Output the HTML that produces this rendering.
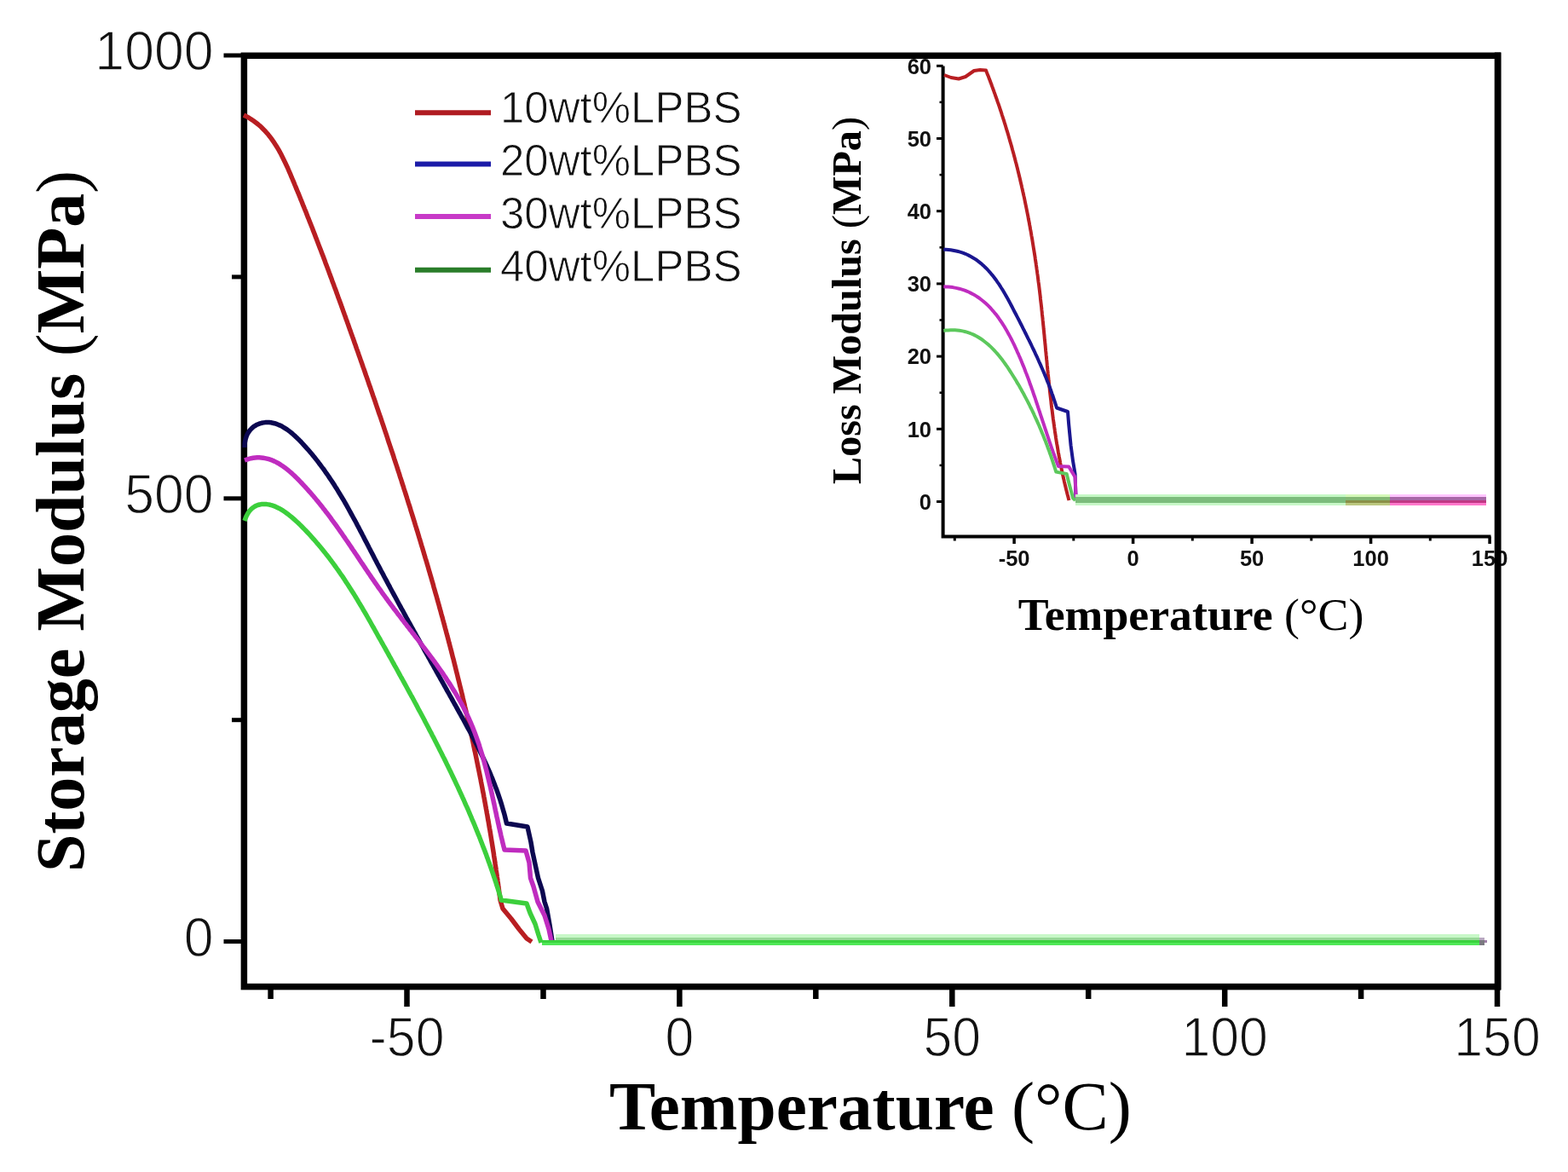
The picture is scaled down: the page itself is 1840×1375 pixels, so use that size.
<!DOCTYPE html><html><head><meta charset="utf-8"><title>Storage Modulus vs Temperature</title>
<style>html,body{margin:0;padding:0;background:#fff;}body{width:1840px;height:1375px;overflow:hidden;}svg{display:block;}.ax{font-family:"Liberation Serif","Times New Roman",serif;font-weight:bold;fill:#000;}.tk{font-family:"Liberation Sans",Arial,sans-serif;fill:#111;}</style></head><body>
<svg width="1840" height="1375" viewBox="0 0 1840 1375">
<rect x="0" y="0" width="1840" height="1375" fill="#fff"/>
<g fill="none" stroke="#000" stroke-linecap="butt">
<rect x="286.4" y="65.3" width="1471.2" height="1092.3" stroke-width="7.5"/>
<line x1="262.5" y1="1104.6" x2="286.4" y2="1104.6" stroke-width="5"/>
<line x1="262.5" y1="584.8" x2="286.4" y2="584.8" stroke-width="5"/>
<line x1="262.5" y1="65" x2="286.4" y2="65" stroke-width="5"/>
<line x1="272" y1="844.7" x2="286.4" y2="844.7" stroke-width="5"/>
<line x1="272" y1="324.9" x2="286.4" y2="324.9" stroke-width="5"/>
<line x1="477.5" y1="1157.6" x2="477.5" y2="1181" stroke-width="6.5"/>
<line x1="797.4" y1="1157.6" x2="797.4" y2="1181" stroke-width="6.5"/>
<line x1="1117.3" y1="1157.6" x2="1117.3" y2="1181" stroke-width="6.5"/>
<line x1="1437.2" y1="1157.6" x2="1437.2" y2="1181" stroke-width="6.5"/>
<line x1="1757" y1="1157.6" x2="1757" y2="1181" stroke-width="6.5"/>
<line x1="317.6" y1="1157.6" x2="317.6" y2="1172" stroke-width="6.5"/>
<line x1="637.5" y1="1157.6" x2="637.5" y2="1172" stroke-width="6.5"/>
<line x1="957.3" y1="1157.6" x2="957.3" y2="1172" stroke-width="6.5"/>
<line x1="1277.2" y1="1157.6" x2="1277.2" y2="1172" stroke-width="6.5"/>
<line x1="1597.1" y1="1157.6" x2="1597.1" y2="1172" stroke-width="6.5"/>
</g>
<g class="tk" font-size="64.5" stroke="#fff" stroke-width="1.3">
<text x="0" y="0" text-anchor="end" transform="translate(250.5,1121.6) scale(0.97,1)">0</text>
<text x="0" y="0" text-anchor="end" transform="translate(250.5,601.8) scale(0.97,1)">500</text>
<text x="0" y="0" text-anchor="end" transform="translate(250.5,82) scale(0.97,1)">1000</text>
</g>
<g class="tk" font-size="64" stroke="#fff" stroke-width="1.3">
<text x="0" y="0" text-anchor="middle" transform="translate(477.5,1239) scale(0.95,1)">-50</text>
<text x="0" y="0" text-anchor="middle" transform="translate(797.4,1239) scale(0.95,1)">0</text>
<text x="0" y="0" text-anchor="middle" transform="translate(1117.3,1239) scale(0.95,1)">50</text>
<text x="0" y="0" text-anchor="middle" transform="translate(1437.2,1239) scale(0.95,1)">100</text>
<text x="0" y="0" text-anchor="middle" transform="translate(1757,1239) scale(0.95,1)">150</text>
</g>
<text class="ax" x="715" y="1325" font-size="81.3">Temperature <tspan font-weight="normal">(°C)</tspan></text>
<text class="ax" font-size="81" transform="translate(98,1023) rotate(-90)" textLength="823" lengthAdjust="spacingAndGlyphs">Storage Modulus <tspan font-weight="normal">(</tspan>MPa<tspan font-weight="normal">)</tspan></text>
<rect x="652" y="1096" width="1084" height="4" fill="#c8f8c8"/>
<rect x="652" y="1100" width="1084" height="3" fill="#98d898"/>
<path d="M286,135 L288.4,136.2 L290.6,137.4 L292.8,138.7 L295,140.1 L297.1,141.5 L299.1,143 L301.1,144.5 L303,146 L304.9,147.6 L306.7,149.3 L308.4,151 L310.1,152.7 L311.8,154.5 L313.4,156.3 L314.9,158.1 L316.4,160 L317.9,161.9 L319.3,163.9 L320.7,165.9 L322.1,167.9 L323.4,169.9 L324.7,172 L326,174.1 L327.2,176.2 L328.4,178.4 L329.6,180.5 L330.7,182.7 L331.8,184.9 L332.9,187.2 L334,189.4 L335.1,191.7 L336.1,193.9 L337.2,196.2 L338.2,198.5 L339.2,200.8 L340.2,203.1 L341.2,205.4 L342.1,207.7 L343.1,210 L344.1,212.4 L345.1,214.7 L346,217 L347,219.3 L347.9,221.7 L348.9,224 L349.9,226.3 L350.8,228.6 L351.8,231 L352.7,233.3 L353.7,235.6 L354.6,238 L355.5,240.3 L356.5,242.6 L357.4,245 L358.4,247.3 L359.3,249.6 L360.2,252 L361.1,254.3 L362.1,256.6 L363,259 L363.9,261.3 L364.8,263.6 L365.8,266 L366.7,268.3 L367.6,270.7 L368.5,273 L369.4,275.3 L370.3,277.7 L371.2,280 L372.1,282.4 L373,284.7 L373.9,287.1 L374.8,289.4 L375.7,291.8 L376.6,294.1 L377.5,296.4 L378.4,298.8 L379.3,301.1 L380.2,303.5 L381.1,305.8 L381.9,308.2 L382.8,310.5 L383.7,312.9 L384.6,315.2 L385.5,317.6 L386.3,319.9 L387.2,322.3 L388.1,324.7 L389,327 L389.8,329.4 L390.7,331.7 L391.6,334.1 L392.4,336.4 L393.3,338.8 L394.2,341.1 L395,343.5 L395.9,345.9 L396.7,348.2 L397.6,350.6 L398.5,352.9 L399.3,355.3 L400.2,357.6 L401,360 L401.9,362.4 L402.7,364.7 L403.6,367.1 L404.4,369.4 L405.3,371.8 L406.1,374.2 L407,376.5 L407.8,378.9 L408.7,381.3 L409.5,383.6 L410.3,386 L411.2,388.3 L412,390.7 L412.9,393.1 L413.7,395.4 L414.6,397.8 L415.4,400.2 L416.2,402.5 L417.1,404.9 L417.9,407.3 L418.7,409.6 L419.6,412 L420.4,414.4 L421.2,416.7 L422.1,419.1 L422.9,421.5 L423.7,423.8 L424.6,426.2 L425.4,428.6 L426.2,430.9 L427.1,433.3 L427.9,435.7 L428.7,438 L429.5,440.4 L430.4,442.8 L431.2,445.1 L432,447.5 L432.8,449.9 L433.6,452.3 L434.5,454.6 L435.3,457 L436.1,459.4 L436.9,461.7 L437.7,464.1 L438.6,466.5 L439.4,468.9 L440.2,471.2 L441,473.6 L441.8,476 L442.6,478.4 L443.4,480.7 L444.2,483.1 L445,485.5 L445.9,487.9 L446.7,490.2 L447.5,492.6 L448.3,495 L449.1,497.4 L449.9,499.7 L450.7,502.1 L451.5,504.5 L452.3,506.9 L453.1,509.2 L453.9,511.6 L454.7,514 L455.4,516.4 L456.2,518.8 L457,521.1 L457.8,523.5 L458.6,525.9 L459.4,528.3 L460.2,530.7 L461,533 L461.8,535.4 L462.5,537.8 L463.3,540.2 L464.1,542.6 L464.9,545 L465.7,547.3 L466.4,549.7 L467.2,552.1 L468,554.5 L468.8,556.9 L469.5,559.3 L470.3,561.6 L471.1,564 L471.8,566.4 L472.6,568.8 L473.4,571.2 L474.1,573.6 L474.9,576 L475.7,578.4 L476.4,580.7 L477.2,583.1 L477.9,585.5 L478.7,587.9 L479.4,590.3 L480.2,592.7 L481,595.1 L481.7,597.5 L482.4,599.9 L483.2,602.3 L483.9,604.7 L484.7,607 L485.4,609.4 L486.2,611.8 L486.9,614.2 L487.6,616.6 L488.4,619 L489.1,621.4 L489.9,623.8 L490.6,626.2 L491.3,628.6 L492,631 L492.8,633.4 L493.5,635.8 L494.2,638.2 L494.9,640.6 L495.7,643 L496.4,645.4 L497.1,647.8 L497.8,650.2 L498.5,652.6 L499.2,655 L500,657.4 L500.7,659.8 L501.4,662.2 L502.1,664.6 L502.8,667 L503.5,669.4 L504.2,671.8 L504.9,674.2 L505.6,676.6 L506.3,679 L507,681.4 L507.7,683.8 L508.4,686.3 L509,688.7 L509.7,691.1 L510.4,693.5 L511.1,695.9 L511.8,698.3 L512.5,700.7 L513.1,703.1 L513.8,705.5 L514.5,707.9 L515.2,710.3 L515.8,712.8 L516.5,715.2 L517.2,717.6 L517.8,720 L518.5,722.4 L519.2,724.8 L519.8,727.2 L520.5,729.7 L521.1,732.1 L521.8,734.5 L522.4,736.9 L523.1,739.3 L523.7,741.7 L524.4,744.2 L525,746.6 L525.7,749 L526.3,751.4 L526.9,753.8 L527.6,756.3 L528.2,758.7 L528.8,761.1 L529.5,763.5 L530.1,766 L530.7,768.4 L531.3,770.8 L532,773.2 L532.6,775.7 L533.2,778.1 L533.8,780.5 L534.4,782.9 L535,785.4 L535.6,787.8 L536.2,790.2 L536.8,792.6 L537.4,795.1 L538,797.5 L538.6,799.9 L539.2,802.4 L539.8,804.8 L540.4,807.2 L541,809.7 L541.6,812.1 L542.2,814.5 L542.8,817 L543.3,819.4 L543.9,821.8 L544.5,824.3 L545.1,826.7 L545.6,829.1 L546.2,831.6 L546.8,834 L547.3,836.5 L547.9,838.9 L548.4,841.3 L549,843.8 L549.6,846.2 L550.1,848.7 L550.7,851.1 L551.2,853.5 L551.7,856 L552.3,858.4 L552.8,860.9 L553.4,863.3 L553.9,865.8 L554.4,868.2 L555,870.7 L555.5,873.1 L556,875.6 L556.5,878 L557,880.5 L557.6,882.9 L558.1,885.4 L558.6,887.8 L559.1,890.3 L559.6,892.7 L560.1,895.2 L560.6,897.6 L561.1,900.1 L561.6,902.5 L562.1,905 L562.6,907.4 L563.1,909.9 L563.6,912.4 L564.1,914.8 L564.5,917.3 L565,919.7 L565.5,922.2 L566,924.7 L566.4,927.1 L566.9,929.6 L567.4,932 L567.8,934.5 L568.3,937 L568.7,939.4 L569.2,941.9 L569.6,944.4 L570.1,946.8 L570.5,949.3 L571,951.8 L571.4,954.2 L571.9,956.7 L572.3,959.2 L572.7,961.6 L573.2,964.1 L573.6,966.6 L574,969 L574.4,971.5 L574.9,974 L575.3,976.5 L575.7,978.9 L576.1,981.4 L576.5,983.9 L576.9,986.4 L577.3,988.8 L577.7,991.3 L578.1,993.8 L578.5,996.3 L578.9,998.8 L579.3,1001.2 L579.6,1003.7 L580,1006.2 L580.4,1008.7 L580.8,1011.2 L581.1,1013.7 L581.5,1016.1 L581.9,1018.6 L582.2,1021.1 L582.6,1023.6 L583,1026.1 L583.3,1028.6 L583.7,1031.1 L584,1033.6 L584.4,1036.1 L584.7,1038.5 L585,1041 L585.4,1043.5 L585.7,1046 L586,1048.5 L586.4,1051 L586.7,1053.5 L587,1056 L587,1056 L590,1066 L600,1078 L609,1090 L618,1101 L624,1105" fill="none" stroke="#b81e22" stroke-width="5.5" stroke-linejoin="round" stroke-linecap="butt"/>
<path d="M287,525 L287.1,521.7 L287.4,518.6 L288,515.7 L288.8,513.1 L289.7,510.6 L290.9,508.3 L292.2,506.2 L293.7,504.3 L295.3,502.6 L297,501.1 L298.8,499.8 L300.8,498.6 L302.8,497.7 L304.9,496.9 L307,496.3 L309.2,495.9 L311.4,495.6 L313.6,495.5 L315.8,495.6 L318,495.8 L320.1,496.2 L322.3,496.7 L324.4,497.4 L326.5,498.2 L328.6,499.1 L330.7,500.1 L332.7,501.3 L334.8,502.6 L336.8,503.9 L338.8,505.4 L340.8,506.9 L342.8,508.5 L344.7,510.2 L346.6,511.9 L348.5,513.7 L350.4,515.6 L352.3,517.4 L354.1,519.4 L355.9,521.3 L357.7,523.3 L359.5,525.3 L361.3,527.3 L363,529.3 L364.7,531.3 L366.4,533.3 L368,535.3 L369.7,537.3 L371.3,539.4 L372.9,541.4 L374.4,543.5 L376,545.5 L377.5,547.6 L379.1,549.6 L380.6,551.7 L382,553.8 L383.5,555.9 L385,558 L386.4,560.1 L387.8,562.2 L389.2,564.3 L390.6,566.4 L392,568.5 L393.3,570.7 L394.7,572.8 L396,574.9 L397.3,577.1 L398.6,579.2 L399.9,581.4 L401.2,583.5 L402.5,585.7 L403.8,587.8 L405,590 L406.3,592.2 L407.5,594.3 L408.7,596.5 L409.9,598.7 L411.1,600.9 L412.3,603.1 L413.5,605.3 L414.7,607.5 L415.9,609.6 L417.1,611.8 L418.3,614 L419.4,616.2 L420.6,618.4 L421.8,620.7 L422.9,622.9 L424.1,625.1 L425.2,627.3 L426.4,629.5 L427.5,631.7 L428.6,633.9 L429.8,636.1 L430.9,638.3 L432.1,640.6 L433.2,642.8 L434.4,645 L435.5,647.2 L436.7,649.4 L437.8,651.6 L439,653.9 L440.1,656.1 L441.3,658.3 L442.4,660.5 L443.6,662.7 L444.8,664.9 L445.9,667.1 L447.1,669.4 L448.3,671.6 L449.5,673.8 L450.6,676 L451.8,678.2 L453,680.4 L454.2,682.6 L455.4,684.9 L456.6,687.1 L457.7,689.3 L458.9,691.5 L460.1,693.7 L461.3,695.9 L462.5,698.1 L463.7,700.3 L464.9,702.6 L466.1,704.8 L467.3,707 L468.5,709.2 L469.7,711.4 L470.9,713.6 L472.2,715.8 L473.4,718 L474.6,720.2 L475.8,722.5 L477,724.7 L478.2,726.9 L479.4,729.1 L480.7,731.3 L481.9,733.5 L483.1,735.7 L484.3,737.9 L485.5,740.1 L486.8,742.3 L488,744.5 L489.2,746.7 L490.4,748.9 L491.7,751.2 L492.9,753.4 L494.1,755.6 L495.4,757.8 L496.6,760 L497.8,762.2 L499,764.4 L500.3,766.6 L501.5,768.8 L502.7,771 L504,773.2 L505.2,775.4 L506.4,777.6 L507.7,779.8 L508.9,782 L510.1,784.2 L511.4,786.4 L512.6,788.6 L513.8,790.8 L515.1,793 L516.3,795.2 L517.5,797.4 L518.8,799.6 L520,801.8 L521.2,804 L522.5,806.2 L523.7,808.4 L524.9,810.6 L526.2,812.8 L527.4,815 L528.6,817.2 L529.9,819.4 L531.1,821.6 L532.3,823.8 L533.5,826 L534.8,828.2 L536,830.4 L537.2,832.6 L538.4,834.8 L539.7,837 L540.9,839.2 L542.1,841.4 L543.3,843.5 L544.5,845.7 L545.7,847.9 L546.9,850.1 L548.1,852.4 L549.3,854.6 L550.5,856.8 L551.7,859 L552.9,861.2 L554,863.4 L555.2,865.6 L556.4,867.8 L557.5,870.1 L558.6,872.3 L559.8,874.5 L560.9,876.7 L562,879 L563.1,881.2 L564.2,883.5 L565.3,885.7 L566.4,888 L567.5,890.2 L568.5,892.5 L569.6,894.8 L570.6,897 L571.7,899.3 L572.7,901.6 L573.7,903.9 L574.7,906.2 L575.7,908.5 L576.6,910.8 L577.6,913.1 L578.5,915.4 L579.4,917.8 L580.3,920.1 L581.2,922.4 L582.1,924.8 L583,927.1 L583.8,929.5 L584.7,931.9 L585.5,934.3 L586.3,936.6 L587.1,939 L587.8,941.4 L588.6,943.9 L589.3,946.3 L590,948.7 L590.7,951.2 L591.4,953.6 L592.1,956.1 L592.7,958.5 L593.3,961 L593.9,963.5 L594.5,966 L594.5,966 L619,970 L623,988 L625,1000 L631.5,1030 L636.4,1045 L639,1058 L641.6,1066 L645,1085 L648,1104" fill="none" stroke="#0c0850" stroke-width="5.5" stroke-linejoin="round" stroke-linecap="butt"/>
<path d="M287,540 L289.6,539.1 L292.1,538.3 L294.6,537.7 L297,537.3 L299.4,537 L301.8,536.8 L304.2,536.8 L306.5,536.9 L308.8,537.2 L311,537.6 L313.3,538.1 L315.5,538.7 L317.6,539.4 L319.8,540.2 L321.9,541.1 L323.9,542.1 L326,543.2 L328,544.4 L330,545.7 L332,547 L334,548.4 L335.9,549.9 L337.8,551.4 L339.7,553 L341.6,554.6 L343.4,556.3 L345.3,558 L347.1,559.8 L348.9,561.5 L350.7,563.3 L352.4,565.1 L354.2,567 L355.9,568.8 L357.6,570.7 L359.3,572.5 L361,574.4 L362.7,576.3 L364.4,578.2 L366,580.1 L367.7,582 L369.3,583.9 L370.9,585.9 L372.5,587.8 L374.1,589.8 L375.7,591.7 L377.3,593.7 L378.8,595.7 L380.4,597.7 L381.9,599.7 L383.5,601.7 L385,603.7 L386.5,605.7 L388,607.7 L389.5,609.8 L391,611.8 L392.5,613.8 L394,615.9 L395.4,617.9 L396.9,620 L398.4,622.1 L399.8,624.1 L401.3,626.2 L402.7,628.3 L404.2,630.4 L405.6,632.5 L407,634.5 L408.5,636.6 L409.9,638.7 L411.3,640.8 L412.7,642.9 L414.1,645 L415.6,647.1 L417,649.2 L418.4,651.3 L419.8,653.4 L421.2,655.6 L422.6,657.7 L424,659.8 L425.5,661.9 L426.9,664 L428.3,666.1 L429.7,668.2 L431.1,670.3 L432.5,672.4 L434,674.5 L435.4,676.6 L436.8,678.7 L438.3,680.8 L439.7,682.9 L441.1,684.9 L442.6,687 L444,689.1 L445.5,691.2 L447,693.2 L448.4,695.3 L449.9,697.4 L451.4,699.4 L452.9,701.5 L454.4,703.5 L455.9,705.6 L457.4,707.6 L458.9,709.6 L460.4,711.6 L461.9,713.7 L463.5,715.7 L465,717.7 L466.5,719.7 L468.1,721.7 L469.6,723.7 L471.1,725.7 L472.7,727.7 L474.2,729.7 L475.8,731.7 L477.3,733.7 L478.9,735.7 L480.4,737.7 L482,739.7 L483.5,741.7 L485.1,743.7 L486.6,745.7 L488.2,747.7 L489.7,749.6 L491.3,751.6 L492.8,753.6 L494.3,755.6 L495.8,757.6 L497.4,759.6 L498.9,761.6 L500.4,763.6 L501.9,765.6 L503.4,767.6 L504.9,769.6 L506.4,771.6 L507.9,773.7 L509.4,775.7 L510.8,777.7 L512.3,779.7 L513.8,781.8 L515.2,783.8 L516.6,785.8 L518.1,787.9 L519.5,789.9 L520.9,792 L522.3,794 L523.7,796.1 L525,798.2 L526.4,800.3 L527.8,802.4 L529.1,804.4 L530.4,806.6 L531.7,808.7 L533,810.8 L534.3,812.9 L535.6,815 L536.8,817.2 L538,819.3 L539.3,821.5 L540.5,823.7 L541.7,825.8 L542.8,828 L544,830.2 L545.1,832.4 L546.2,834.7 L547.3,836.9 L548.4,839.1 L549.5,841.4 L550.5,843.7 L551.5,845.9 L552.5,848.2 L553.5,850.5 L554.5,852.8 L555.4,855.2 L556.3,857.5 L557.2,859.8 L558.1,862.2 L559,864.6 L559.8,866.9 L560.6,869.3 L561.5,871.7 L562.3,874.1 L563,876.6 L563.8,879 L564.5,881.4 L565.3,883.8 L566,886.3 L566.7,888.7 L567.4,891.2 L568.1,893.6 L568.7,896.1 L569.4,898.6 L570,901.1 L570.7,903.5 L571.3,906 L571.9,908.5 L572.5,911 L573.1,913.5 L573.7,916 L574.3,918.5 L574.9,921 L575.5,923.5 L576,926 L576.6,928.5 L577.1,931 L577.7,933.5 L578.2,936 L578.8,938.5 L579.3,941 L579.9,943.5 L580.4,946 L580.9,948.4 L581.4,950.9 L582,953.4 L582.5,955.9 L583,958.4 L583.6,960.8 L584.1,963.3 L584.6,965.7 L585.2,968.2 L585.7,970.6 L586.3,973.1 L586.8,975.5 L587.4,977.9 L587.9,980.3 L588.5,982.8 L589.1,985.2 L589.6,987.5 L590.2,989.9 L590.8,992.3 L591.4,994.6 L592,997 L592,997 L617,998 L621,1012 L622.5,1030 L626,1040 L631,1058 L639,1074 L644,1090 L647,1104" fill="none" stroke="#bf2cbf" stroke-width="5.5" stroke-linejoin="round" stroke-linecap="butt"/>
<path d="M287,611 L288.1,607.9 L289.3,605.2 L290.6,602.7 L292,600.5 L293.6,598.6 L295.2,596.9 L297,595.5 L298.8,594.3 L300.7,593.3 L302.6,592.5 L304.6,592 L306.7,591.6 L308.7,591.4 L310.8,591.4 L312.9,591.6 L315,591.9 L317.1,592.3 L319.2,592.9 L321.3,593.6 L323.4,594.4 L325.5,595.4 L327.6,596.4 L329.7,597.6 L331.8,598.9 L333.8,600.2 L335.9,601.7 L337.9,603.2 L339.9,604.8 L341.9,606.4 L343.9,608.1 L345.9,609.9 L347.9,611.7 L349.9,613.5 L351.8,615.4 L353.7,617.3 L355.6,619.2 L357.5,621.1 L359.3,623 L361.2,625 L363,626.9 L364.8,628.9 L366.5,630.8 L368.3,632.8 L370,634.8 L371.7,636.8 L373.4,638.7 L375.1,640.7 L376.8,642.7 L378.4,644.7 L380,646.7 L381.6,648.7 L383.2,650.8 L384.8,652.8 L386.4,654.8 L387.9,656.8 L389.4,658.9 L390.9,660.9 L392.4,663 L393.9,665 L395.4,667.1 L396.9,669.1 L398.3,671.2 L399.7,673.3 L401.2,675.3 L402.6,677.4 L404,679.5 L405.3,681.6 L406.7,683.7 L408.1,685.8 L409.4,687.9 L410.8,690 L412.1,692.1 L413.5,694.2 L414.8,696.3 L416.1,698.4 L417.4,700.5 L418.7,702.7 L420,704.8 L421.2,706.9 L422.5,709 L423.8,711.2 L425.1,713.3 L426.3,715.5 L427.6,717.6 L428.8,719.7 L430.1,721.9 L431.3,724 L432.5,726.2 L433.8,728.4 L435,730.5 L436.2,732.7 L437.4,734.8 L438.7,737 L439.9,739.2 L441.1,741.3 L442.3,743.5 L443.5,745.7 L444.7,747.8 L446,750 L447.2,752.2 L448.4,754.4 L449.6,756.5 L450.8,758.7 L452.1,760.9 L453.3,763.1 L454.5,765.3 L455.7,767.4 L456.9,769.6 L458.2,771.8 L459.4,774 L460.6,776.2 L461.8,778.4 L463,780.6 L464.3,782.8 L465.5,785 L466.7,787.2 L467.9,789.4 L469.1,791.6 L470.3,793.8 L471.6,796 L472.8,798.2 L474,800.4 L475.2,802.6 L476.4,804.8 L477.6,807 L478.8,809.2 L480,811.4 L481.2,813.6 L482.4,815.8 L483.7,818 L484.9,820.3 L486.1,822.5 L487.3,824.7 L488.5,826.9 L489.6,829.1 L490.8,831.4 L492,833.6 L493.2,835.8 L494.4,838.1 L495.6,840.3 L496.8,842.5 L498,844.7 L499.1,847 L500.3,849.2 L501.5,851.5 L502.7,853.7 L503.8,855.9 L505,858.2 L506.2,860.4 L507.3,862.7 L508.5,864.9 L509.7,867.2 L510.8,869.4 L512,871.7 L513.1,873.9 L514.3,876.2 L515.4,878.4 L516.5,880.7 L517.7,883 L518.8,885.2 L519.9,887.5 L521.1,889.7 L522.2,892 L523.3,894.3 L524.4,896.6 L525.5,898.8 L526.6,901.1 L527.7,903.4 L528.8,905.6 L529.9,907.9 L531,910.2 L532.1,912.5 L533.2,914.8 L534.3,917.1 L535.3,919.3 L536.4,921.6 L537.5,923.9 L538.5,926.2 L539.6,928.5 L540.6,930.8 L541.7,933.1 L542.7,935.4 L543.8,937.7 L544.8,940 L545.8,942.3 L546.8,944.6 L547.9,946.9 L548.9,949.2 L549.9,951.5 L550.9,953.8 L551.9,956.2 L552.9,958.5 L553.8,960.8 L554.8,963.1 L555.8,965.4 L556.8,967.8 L557.7,970.1 L558.7,972.4 L559.6,974.7 L560.6,977.1 L561.5,979.4 L562.5,981.7 L563.4,984.1 L564.3,986.4 L565.2,988.7 L566.1,991.1 L567,993.4 L567.9,995.8 L568.8,998.1 L569.7,1000.5 L570.6,1002.8 L571.4,1005.2 L572.3,1007.5 L573.1,1009.9 L574,1012.2 L574.8,1014.6 L575.7,1017 L576.5,1019.3 L577.3,1021.7 L578.1,1024 L578.9,1026.4 L579.7,1028.8 L580.5,1031.2 L581.3,1033.5 L582.1,1035.9 L582.8,1038.3 L583.6,1040.7 L584.4,1043.1 L585.1,1045.4 L585.8,1047.8 L586.6,1050.2 L587.3,1052.6 L588,1055 L588,1056 L618,1060 L622,1071 L628,1084 L632,1097 L635,1106" fill="none" stroke="#3ccf3c" stroke-width="5.5" stroke-linejoin="round" stroke-linecap="butt"/>
<rect x="636" y="1103" width="1100" height="3" fill="#3ad23e"/>
<rect x="636" y="1106" width="1100" height="3" fill="#50e858"/>
<rect x="1736" y="1100" width="6" height="3" fill="#b8a8c0"/>
<rect x="1736" y="1103" width="6" height="6" fill="#7a7a80"/>
<rect x="1742" y="1103" width="3" height="3" fill="#a080a8"/>
<line x1="487" y1="132.2" x2="576" y2="132.2" stroke="#b01c22" stroke-width="6"/>
<line x1="487" y1="192.5" x2="576" y2="192.5" stroke="#1c1ca8" stroke-width="6"/>
<line x1="487" y1="254" x2="576" y2="254" stroke="#c83ac8" stroke-width="6"/>
<line x1="487" y1="316.7" x2="576" y2="316.7" stroke="#2a7d2a" stroke-width="6"/>
<g class="tk" font-size="51" fill="#161616" stroke="#fff" stroke-width="0.9">
<text x="587" y="143.6">10wt%LPBS</text>
<text x="587" y="205.8">20wt%LPBS</text>
<text x="587" y="268">30wt%LPBS</text>
<text x="587" y="329.7">40wt%LPBS</text>
</g>
<g fill="none" stroke="#000">
<path d="M1106.6,77.4 L1106.6,629.5 L1749.5,629.5" stroke-width="4"/>
<line x1="1099" y1="588.5" x2="1106.6" y2="588.5" stroke-width="3"/>
<line x1="1099" y1="503.3" x2="1106.6" y2="503.3" stroke-width="3"/>
<line x1="1099" y1="418.1" x2="1106.6" y2="418.1" stroke-width="3"/>
<line x1="1099" y1="332.9" x2="1106.6" y2="332.9" stroke-width="3"/>
<line x1="1099" y1="247.7" x2="1106.6" y2="247.7" stroke-width="3"/>
<line x1="1099" y1="162.5" x2="1106.6" y2="162.5" stroke-width="3"/>
<line x1="1099" y1="77.3" x2="1106.6" y2="77.3" stroke-width="3"/>
<line x1="1102.5" y1="545.9" x2="1106.6" y2="545.9" stroke-width="2.5"/>
<line x1="1102.5" y1="460.7" x2="1106.6" y2="460.7" stroke-width="2.5"/>
<line x1="1102.5" y1="375.5" x2="1106.6" y2="375.5" stroke-width="2.5"/>
<line x1="1102.5" y1="290.3" x2="1106.6" y2="290.3" stroke-width="2.5"/>
<line x1="1102.5" y1="205.1" x2="1106.6" y2="205.1" stroke-width="2.5"/>
<line x1="1102.5" y1="119.9" x2="1106.6" y2="119.9" stroke-width="2.5"/>
<line x1="1190.1" y1="629.5" x2="1190.1" y2="638" stroke-width="3.5"/>
<line x1="1329.6" y1="629.5" x2="1329.6" y2="638" stroke-width="3.5"/>
<line x1="1469.1" y1="629.5" x2="1469.1" y2="638" stroke-width="3.5"/>
<line x1="1608.6" y1="629.5" x2="1608.6" y2="638" stroke-width="3.5"/>
<line x1="1748.1" y1="629.5" x2="1748.1" y2="638" stroke-width="3.5"/>
<line x1="1120.3" y1="629.5" x2="1120.3" y2="634.5" stroke-width="3"/>
<line x1="1259.8" y1="629.5" x2="1259.8" y2="634.5" stroke-width="3"/>
<line x1="1399.3" y1="629.5" x2="1399.3" y2="634.5" stroke-width="3"/>
<line x1="1538.8" y1="629.5" x2="1538.8" y2="634.5" stroke-width="3"/>
<line x1="1678.3" y1="629.5" x2="1678.3" y2="634.5" stroke-width="3"/>
</g>
<g class="tk" font-size="25.5" font-weight="bold" fill="#1a1a1a">
<text x="1093" y="597.8" text-anchor="end">0</text>
<text x="1093" y="512.6" text-anchor="end">10</text>
<text x="1093" y="427.4" text-anchor="end">20</text>
<text x="1093" y="342.2" text-anchor="end">30</text>
<text x="1093" y="257" text-anchor="end">40</text>
<text x="1093" y="171.8" text-anchor="end">50</text>
<text x="1093" y="86.6" text-anchor="end">60</text>
<text x="1190.1" y="664" text-anchor="middle">-50</text>
<text x="1329.6" y="664" text-anchor="middle">0</text>
<text x="1469.1" y="664" text-anchor="middle">50</text>
<text x="1608.6" y="664" text-anchor="middle">100</text>
<text x="1748.1" y="664" text-anchor="middle">150</text>
</g>
<text class="ax" x="1194.8" y="739.3" font-size="53.8">Temperature <tspan font-weight="normal">(°C)</tspan></text>
<text class="ax" font-size="48.5" transform="translate(1009.8,568) rotate(-90)" textLength="431" lengthAdjust="spacingAndGlyphs">Loss Modulus <tspan font-weight="normal">(</tspan>MPa<tspan font-weight="normal">)</tspan></text>
<path d="M1108,88 L1116,91 L1125,92.5 L1133,90 L1143,83 L1150,82 L1157,82.5 L1157,82.5 L1157.9,84.9 L1158.8,87.2 L1159.8,89.6 L1160.7,91.9 L1161.6,94.3 L1162.5,96.7 L1163.4,99 L1164.2,101.4 L1165.1,103.8 L1166,106.2 L1166.8,108.5 L1167.7,110.9 L1168.5,113.3 L1169.4,115.7 L1170.2,118.1 L1171,120.4 L1171.9,122.8 L1172.7,125.2 L1173.5,127.6 L1174.3,130 L1175.1,132.4 L1175.8,134.8 L1176.6,137.2 L1177.4,139.6 L1178.2,142 L1178.9,144.4 L1179.7,146.8 L1180.4,149.2 L1181.1,151.6 L1181.9,154 L1182.6,156.4 L1183.3,158.8 L1184,161.3 L1184.7,163.7 L1185.4,166.1 L1186.1,168.5 L1186.8,170.9 L1187.5,173.4 L1188.1,175.8 L1188.8,178.2 L1189.5,180.6 L1190.1,183.1 L1190.8,185.5 L1191.4,187.9 L1192,190.3 L1192.7,192.8 L1193.3,195.2 L1193.9,197.6 L1194.5,200.1 L1195.1,202.5 L1195.7,205 L1196.3,207.4 L1196.9,209.8 L1197.4,212.3 L1198,214.7 L1198.6,217.2 L1199.1,219.6 L1199.7,222.1 L1200.2,224.5 L1200.8,227 L1201.3,229.4 L1201.9,231.9 L1202.4,234.3 L1202.9,236.8 L1203.4,239.3 L1203.9,241.7 L1204.4,244.2 L1204.9,246.6 L1205.4,249.1 L1205.9,251.6 L1206.4,254 L1206.8,256.5 L1207.3,259 L1207.8,261.4 L1208.2,263.9 L1208.7,266.4 L1209.1,268.9 L1209.6,271.3 L1210,273.8 L1210.4,276.3 L1210.9,278.8 L1211.3,281.2 L1211.7,283.7 L1212.1,286.2 L1212.5,288.7 L1212.9,291.2 L1213.3,293.6 L1213.7,296.1 L1214.1,298.6 L1214.5,301.1 L1214.8,303.6 L1215.2,306.1 L1215.6,308.6 L1215.9,311 L1216.3,313.5 L1216.6,316 L1217,318.5 L1217.3,321 L1217.7,323.5 L1218,326 L1218.3,328.5 L1218.6,331 L1219,333.5 L1219.3,336 L1219.6,338.5 L1219.9,341 L1220.2,343.5 L1220.5,346 L1220.8,348.5 L1221,351 L1221.3,353.5 L1221.6,356 L1221.9,358.5 L1222.2,361 L1222.4,363.5 L1222.7,366 L1222.9,368.5 L1223.2,371 L1223.5,373.5 L1223.7,376 L1224,378.6 L1224.2,381.1 L1224.5,383.6 L1224.7,386.1 L1225,388.6 L1225.2,391.1 L1225.5,393.6 L1225.7,396.1 L1225.9,398.6 L1226.2,401.1 L1226.4,403.6 L1226.7,406.1 L1226.9,408.7 L1227.1,411.2 L1227.4,413.7 L1227.6,416.2 L1227.9,418.7 L1228.1,421.2 L1228.4,423.7 L1228.6,426.2 L1228.8,428.7 L1229.1,431.2 L1229.3,433.7 L1229.6,436.2 L1229.8,438.7 L1230.1,441.2 L1230.4,443.8 L1230.6,446.3 L1230.9,448.8 L1231.1,451.3 L1231.4,453.8 L1231.7,456.3 L1231.9,458.8 L1232.2,461.3 L1232.5,463.8 L1232.8,466.3 L1233.1,468.8 L1233.4,471.3 L1233.6,473.8 L1233.9,476.2 L1234.2,478.7 L1234.6,481.2 L1234.9,483.7 L1235.2,486.2 L1235.5,488.7 L1235.8,491.2 L1236.2,493.7 L1236.5,496.2 L1236.9,498.6 L1237.2,501.1 L1237.6,503.6 L1237.9,506.1 L1238.3,508.6 L1238.7,511.1 L1239,513.5 L1239.4,516 L1239.8,518.5 L1240.2,520.9 L1240.7,523.4 L1241.1,525.9 L1241.5,528.4 L1241.9,530.8 L1242.4,533.3 L1242.8,535.7 L1243.3,538.2 L1243.8,540.7 L1244.2,543.1 L1244.7,545.6 L1245.2,548 L1245.7,550.5 L1246.2,552.9 L1246.7,555.4 L1247.3,557.8 L1247.8,560.3 L1248.4,562.7 L1248.9,565.1 L1249.5,567.6 L1250.1,570 L1250.7,572.5 L1251.3,574.9 L1251.9,577.3 L1252.5,579.7 L1253.2,582.2 L1253.8,584.6 L1254.5,587" fill="none" stroke="#b81e22" stroke-width="4" stroke-linejoin="round" stroke-linecap="butt"/>
<path d="M1107.3,292.7 L1110.1,292.8 L1112.9,293 L1115.6,293.3 L1118.2,293.7 L1120.8,294.2 L1123.3,294.7 L1125.8,295.4 L1128.2,296.1 L1130.5,296.9 L1132.8,297.8 L1135,298.8 L1137.2,299.9 L1139.3,301 L1141.4,302.2 L1143.5,303.4 L1145.5,304.7 L1147.4,306.1 L1149.3,307.6 L1151.2,309.1 L1153,310.7 L1154.8,312.3 L1156.5,314 L1158.2,315.7 L1159.9,317.5 L1161.5,319.3 L1163.1,321.2 L1164.7,323.1 L1166.2,325 L1167.7,327 L1169.2,329 L1170.6,331.1 L1172.1,333.2 L1173.5,335.3 L1174.8,337.5 L1176.2,339.6 L1177.5,341.8 L1178.9,344.1 L1180.1,346.3 L1181.4,348.6 L1182.7,350.8 L1183.9,353.1 L1185.2,355.4 L1186.4,357.7 L1187.6,360 L1188.8,362.4 L1190,364.7 L1191.2,367 L1192.4,369.3 L1193.6,371.6 L1194.8,373.9 L1196,376.2 L1197.1,378.5 L1198.3,380.8 L1199.5,383.1 L1200.6,385.4 L1201.8,387.7 L1202.9,390 L1204.1,392.3 L1205.2,394.6 L1206.3,396.9 L1207.5,399.1 L1208.6,401.4 L1209.7,403.7 L1210.8,406 L1211.9,408.3 L1213,410.5 L1214.1,412.8 L1215.1,415.1 L1216.2,417.4 L1217.3,419.7 L1218.3,422 L1219.3,424.3 L1220.4,426.6 L1221.4,428.9 L1222.4,431.2 L1223.4,433.5 L1224.4,435.8 L1225.4,438.1 L1226.3,440.4 L1227.3,442.7 L1228.2,445.1 L1229.1,447.4 L1230.1,449.8 L1231,452.1 L1231.9,454.5 L1232.7,456.8 L1233.6,459.2 L1234.4,461.6 L1235.3,464 L1236.1,466.4 L1236.9,468.8 L1237.7,471.2 L1238.5,473.6 L1239.3,476.1 L1240,478.5 L1240,478.5 L1253,483 L1254.2,498 L1256.6,522.7 L1259.1,541.2 L1261.6,556 L1262.5,586" fill="none" stroke="#1a1690" stroke-width="4" stroke-linejoin="round" stroke-linecap="butt"/>
<path d="M1107.3,336.3 L1110.1,336.4 L1112.8,336.5 L1115.5,336.8 L1118.1,337.1 L1120.6,337.6 L1123.1,338.1 L1125.6,338.7 L1128,339.4 L1130.4,340.1 L1132.7,340.9 L1134.9,341.8 L1137.1,342.8 L1139.3,343.9 L1141.4,345 L1143.5,346.1 L1145.6,347.4 L1147.6,348.7 L1149.5,350 L1151.4,351.5 L1153.3,353 L1155.1,354.5 L1156.9,356.1 L1158.7,357.7 L1160.4,359.4 L1162.1,361.2 L1163.7,363 L1165.3,364.8 L1166.9,366.7 L1168.5,368.6 L1170,370.5 L1171.5,372.5 L1172.9,374.6 L1174.3,376.6 L1175.7,378.7 L1177.1,380.8 L1178.5,383 L1179.8,385.2 L1181.1,387.4 L1182.3,389.6 L1183.6,391.9 L1184.8,394.1 L1186,396.4 L1187.2,398.7 L1188.3,401 L1189.5,403.4 L1190.6,405.7 L1191.7,408.1 L1192.8,410.4 L1193.8,412.8 L1194.9,415.1 L1195.9,417.5 L1197,419.9 L1198,422.3 L1199,424.7 L1199.9,427.1 L1200.9,429.4 L1201.9,431.8 L1202.8,434.3 L1203.7,436.7 L1204.7,439.1 L1205.6,441.5 L1206.5,443.9 L1207.4,446.3 L1208.2,448.7 L1209.1,451.2 L1210,453.6 L1210.8,456 L1211.7,458.4 L1212.5,460.9 L1213.3,463.3 L1214.2,465.7 L1215,468.1 L1215.8,470.6 L1216.6,473 L1217.4,475.4 L1218.2,477.9 L1219,480.3 L1219.8,482.7 L1220.6,485.1 L1221.4,487.6 L1222.2,490 L1223,492.4 L1223.8,494.8 L1224.6,497.2 L1225.4,499.7 L1226.2,502.1 L1227,504.5 L1227.8,506.9 L1228.6,509.3 L1229.4,511.7 L1230.2,514.1 L1231,516.5 L1231.8,518.8 L1232.6,521.2 L1233.4,523.6 L1234.2,526 L1235.1,528.3 L1235.9,530.7 L1236.8,533 L1237.6,535.4 L1238.5,537.7 L1239.3,540 L1240.2,542.4 L1241.1,544.7 L1242,547 L1242,547 L1254.2,547.4 L1261.6,559.8 L1262.8,586" fill="none" stroke="#bf2cbf" stroke-width="4" stroke-linejoin="round" stroke-linecap="butt"/>
<path d="M1107.3,388 L1110.1,387.6 L1112.8,387.4 L1115.5,387.2 L1118.1,387.2 L1120.7,387.3 L1123.2,387.4 L1125.7,387.7 L1128.2,388.1 L1130.6,388.6 L1132.9,389.2 L1135.2,389.9 L1137.5,390.6 L1139.7,391.5 L1141.9,392.4 L1144,393.4 L1146.1,394.5 L1148.2,395.7 L1150.2,397 L1152.2,398.3 L1154.1,399.7 L1156,401.2 L1157.9,402.7 L1159.8,404.3 L1161.6,405.9 L1163.4,407.6 L1165.1,409.3 L1166.8,411.1 L1168.5,413 L1170.2,414.9 L1171.8,416.8 L1173.4,418.8 L1175,420.8 L1176.6,422.8 L1178.1,424.9 L1179.6,427 L1181.1,429.1 L1182.6,431.2 L1184,433.4 L1185.4,435.6 L1186.8,437.8 L1188.2,440 L1189.6,442.2 L1191,444.4 L1192.3,446.6 L1193.6,448.9 L1195,451.1 L1196.3,453.3 L1197.5,455.6 L1198.8,457.8 L1200,460.1 L1201.3,462.3 L1202.5,464.6 L1203.7,466.9 L1204.9,469.1 L1206.1,471.4 L1207.3,473.7 L1208.4,476 L1209.5,478.3 L1210.7,480.5 L1211.8,482.8 L1212.9,485.1 L1213.9,487.5 L1215,489.8 L1216.1,492.1 L1217.1,494.4 L1218.1,496.7 L1219.2,499 L1220.2,501.4 L1221.2,503.7 L1222.1,506 L1223.1,508.4 L1224.1,510.7 L1225,513.1 L1225.9,515.4 L1226.9,517.8 L1227.8,520.2 L1228.7,522.5 L1229.5,524.9 L1230.4,527.3 L1231.3,529.6 L1232.1,532 L1233,534.4 L1233.8,536.8 L1234.6,539.2 L1235.4,541.6 L1236.2,544 L1237,546.4 L1237.8,548.8 L1238.5,551.2 L1239.3,553.6 L1239.3,553.6 L1251.7,556 L1254.2,566 L1259.1,584.5 L1262,587" fill="none" stroke="#5cc85c" stroke-width="4" stroke-linejoin="round" stroke-linecap="butt"/>
<rect x="1262" y="580" width="317" height="3" fill="#c4f8c4"/>
<rect x="1262" y="583" width="317" height="7" fill="#7cbc7c"/>
<rect x="1262" y="590" width="317" height="3" fill="#c8f8c8"/>
<rect x="1579" y="580" width="52" height="3" fill="#d4f8b8"/>
<rect x="1579" y="583" width="52" height="4" fill="#84b874"/>
<rect x="1579" y="587" width="52" height="3" fill="#8a9048"/>
<rect x="1579" y="590" width="52" height="3" fill="#bcc880"/>
<rect x="1631" y="580" width="113" height="3" fill="#ffc4ff"/>
<rect x="1631" y="583" width="113" height="4" fill="#a868a8"/>
<rect x="1631" y="587" width="113" height="3" fill="#c03884"/>
<rect x="1631" y="590" width="113" height="3" fill="#ff78cc"/>
<line x1="1757.6" y1="61.5" x2="1757.6" y2="1161.4" stroke="#000" stroke-width="7.5"/>
</svg></body></html>
